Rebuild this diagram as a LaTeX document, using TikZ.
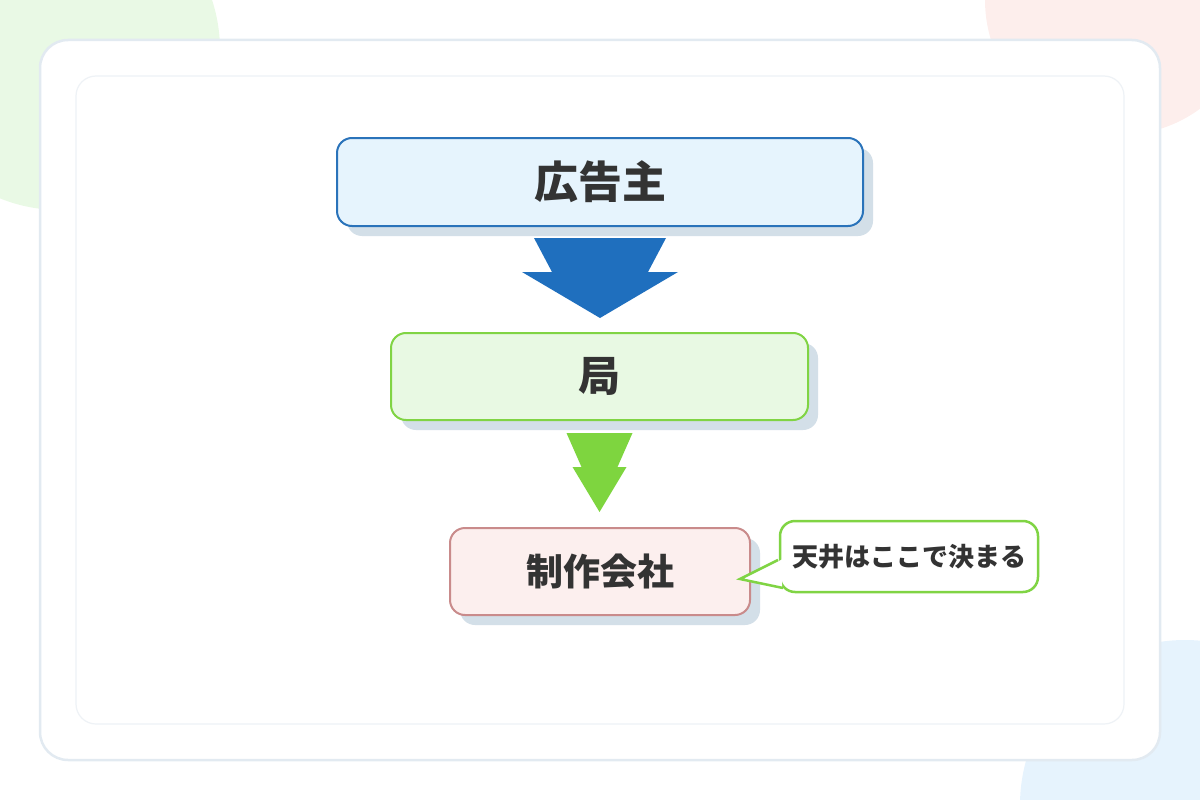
\documentclass[tikz,border=0pt]{standalone}
\usepackage{fontspec}
\newfontfamily\cjk{Noto Sans CJK JP}
\usetikzlibrary{calc}
\definecolor{textc}{HTML}{333333}
\definecolor{blueline}{HTML}{2A73BA}
\definecolor{bluefill}{HTML}{E6F4FD}
\definecolor{bluearrow}{HTML}{1F6FBE}
\definecolor{greenline}{HTML}{80D444}
\definecolor{greenfill}{HTML}{E8F9E3}
\definecolor{greenarrow}{HTML}{7ED53F}
\definecolor{roseline}{HTML}{C98B8B}
\definecolor{rosefill}{HTML}{FCEFEE}
\definecolor{shadowc}{HTML}{D3DFE8}
\definecolor{blobgreen}{HTML}{E9F9E5}
\definecolor{blobpink}{HTML}{FDEEEC}
\definecolor{blobblue}{HTML}{E6F3FD}
\definecolor{cardline}{HTML}{E2EAF1}
\definecolor{innerline}{HTML}{EEF2F6}
\tikzset{
  flowbox/.style={rounded corners=15pt, line width=2pt, text=textc,
    font=\cjk\bfseries, align=center},
  boxshadow/.style={fill=shadowc, rounded corners=15pt},
}
\begin{document}
\begin{tikzpicture}[x=1pt, y=-1pt, inner sep=0pt, outer sep=0pt]
\useasboundingbox (0,0) rectangle (1200,800);
\begin{scope}
  \clip (0,0) rectangle (1200,800);
  \fill[blobgreen] (60,50) circle[radius=160];
  \fill[blobpink] (1120,0) circle[radius=135];
  \fill[blobblue] (1185,805) circle[radius=165];
\end{scope}
\path[draw=cardline, fill=white, line width=2.5pt, rounded corners=28pt]
  (40,40) rectangle (1160,760);
\path[draw=innerline, line width=1.2pt, rounded corners=20pt]
  (76,76) rectangle (1124,724);
% shadows
\path[boxshadow] (347,148) rectangle (873,236);
\path[boxshadow] (401,343) rectangle (818,430);
\path[boxshadow] (460,538) rectangle (760,625);
% boxes
\node[flowbox, draw=blueline, fill=bluefill, minimum width=526pt,
  minimum height=88pt, font=\cjk\bfseries\fontsize{44}{44}\selectfont]
  (advertiser) at (600,182) {広告主};
\node[flowbox, draw=greenline, fill=greenfill, minimum width=417pt,
  minimum height=87pt, font=\cjk\bfseries\fontsize{42}{42}\selectfont]
  (station) at (599.5,376.5) {局};
\node[flowbox, draw=roseline, fill=rosefill, minimum width=300pt,
  minimum height=87pt, font=\cjk\bfseries\fontsize{37}{37}\selectfont]
  (producer) at (600,571.5) {制作会社};
\node[flowbox, draw=greenline, fill=white, line width=2.5pt,
  minimum width=258pt, minimum height=71pt,
  font=\cjk\bfseries\fontsize{26}{26}\selectfont]
  (callout) at (909,556.5) {天井はここで決まる};
% callout pointer
\fill[white] ($(callout.south west)+(3,-33)$) -- ($(callout.south west)+(-40,-13)$)
  -- ($(callout.south west)+(2,-4)$) -- cycle;
\draw[greenline, line width=2.5pt, line join=miter]
  ($(callout.south west)+(-2,-32)$) -- ($(callout.south west)+(-40,-13)$)
  -- ($(callout.south west)+(3,-4)$);
% block arrows
\fill[bluearrow] ($(advertiser.south)+(-66,12)$) -- ($(advertiser.south)+(66,12)$)
  -- ($(advertiser.south)+(48,46)$) -- ($(advertiser.south)+(78,46)$)
  -- ($(advertiser.south)+(0,92)$) -- ($(advertiser.south)+(-78,46)$)
  -- ($(advertiser.south)+(-48,46)$) -- cycle;
\fill[greenarrow] ($(station.south)+(-33,13)$) -- ($(station.south)+(33,13)$)
  -- ($(station.south)+(18,47)$) -- ($(station.south)+(27,47)$)
  -- ($(station.south)+(0,92)$) -- ($(station.south)+(-27,47)$)
  -- ($(station.south)+(-18,47)$) -- cycle;
\end{tikzpicture}
\end{document}
